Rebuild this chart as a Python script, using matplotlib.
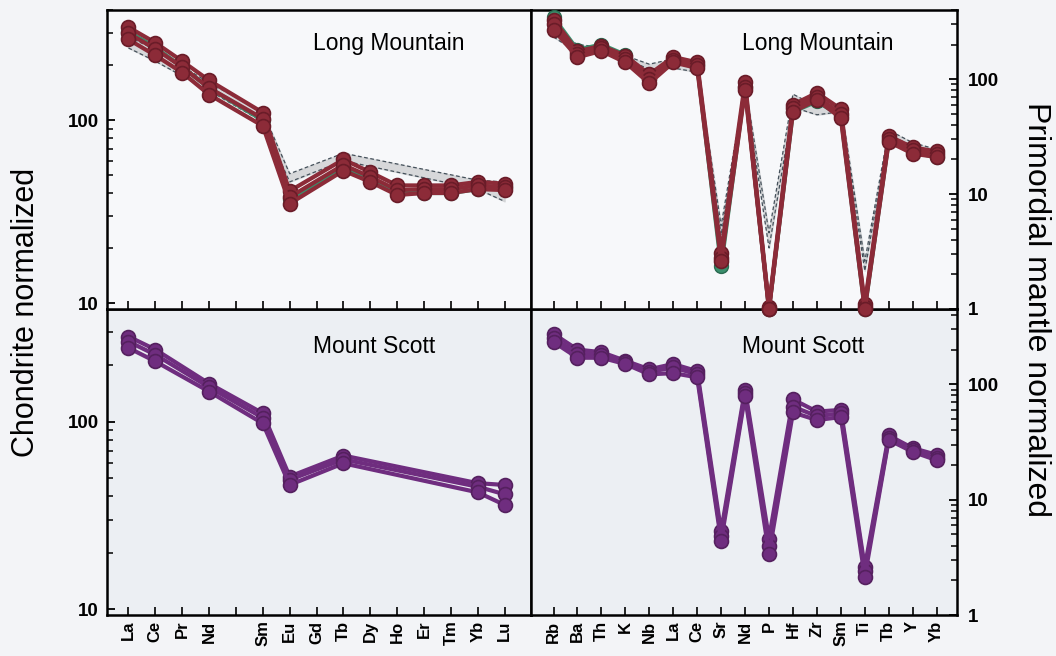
import numpy as np
import matplotlib.pyplot as plt
from matplotlib.ticker import LogLocator, NullFormatter

plt.rcParams['font.family'] = ['Liberation Sans', 'DejaVu Sans']

# --- REE, chondrite normalized ---
ree_labels = ['La', 'Ce', 'Pr', 'Nd', '', 'Sm', 'Eu', 'Gd', 'Tb', 'Dy', 'Ho', 'Er', 'Tm', 'Yb', 'Lu']

lm_ree_elements = ['La', 'Ce', 'Pr', 'Nd', 'Sm', 'Eu', 'Tb', 'Dy', 'Ho', 'Er', 'Tm', 'Yb', 'Lu']
lm_ree_green = [305, 250, 195, 150, 100, 37, 55, 48, 40, 40, 40, 42, 43]
lm_ree = [
    [322, 265, 210, 165, 110, 41, 61, 52, 44, 44, 44, 46, 45],
    [298, 245, 195, 150, 102, 38, 57, 49, 41.5, 42, 42, 44, 43],
    [276, 226, 182, 138, 93, 35, 53, 46, 39, 40, 40, 42, 41.5],
]

ms_ree_elements = ['La', 'Ce', 'Nd', 'Sm', 'Eu', 'Tb', 'Yb', 'Lu']
ms_ree = [
    [285, 243, 160, 111, 51, 66, 47, 46],
    [268, 228, 153, 105, 49, 63, 45, 41],
    [248, 210, 145, 98, 46, 60, 42, 36],
]

# --- multi-element, primordial mantle normalized ---
spider_labels = ['Rb', 'Ba', 'Th', 'K', 'Nb', 'La', 'Ce', 'Sr', 'Nd', 'P',
                 'Hf', 'Zr', 'Sm', 'Ti', 'Tb', 'Y', 'Yb']
lm_spider_green = [345, 180, 200, 163, 104, 150, 133, 2.35, 86, 1.0, 52, 64, 48, 1.0, 29, 23, 21]
lm_spider = [
    [330, 175, 195, 160, 110, 156, 140, 3.1, 94, 1.05, 60, 76, 55, 1.1, 32, 25.5, 23.5],
    [300, 165, 186, 150, 100, 146, 132, 2.8, 86, 1.0, 56, 70, 50, 1.05, 30, 24, 22.5],
    [270, 155, 176, 140, 92, 140, 125, 2.6, 80, 1.0, 52, 66, 46, 1.0, 28.5, 22.5, 21],
]
ms_spider = [
    [274, 200, 190, 160, 135, 150, 130, 5.3, 90, 4.6, 74, 58, 60, 2.6, 36, 28, 24.5],
    [250, 185, 180, 155, 128, 140, 122, 4.8, 84, 4.0, 64, 53, 56, 2.4, 34, 27, 23],
    [233, 170, 170, 150, 122, 125, 115, 4.4, 79, 3.4, 57, 49, 52, 2.15, 33, 26, 22],
]

LM_RED = '#8c2b38'
LM_EDGE = '#6a1c28'
GREEN = '#3a8f6c'
MS_PURPLE = '#6f2d7f'
MS_EDGE = '#55205f'

fig = plt.figure(figsize=(10.56, 6.56), dpi=100, facecolor='#f3f4f7')
ax_tl = fig.add_axes([0.1013, 0.529, 0.4020, 0.4558])
ax_tr = fig.add_axes([0.5033, 0.529, 0.4029, 0.4558])
ax_bl = fig.add_axes([0.1013, 0.0625, 0.4020, 0.4665])
ax_br = fig.add_axes([0.5033, 0.0625, 0.4029, 0.4665])
ax_tl.set_zorder(3)
ax_tr.set_zorder(3)


def draw_lines(ax, x, rows, color, edge, green=None, clip=True):
    if green is not None:
        ax.plot(x, green, '-o', color=GREEN, mec='#2a6a50', lw=3, ms=10,
                clip_on=clip, zorder=3)
    for r in rows:
        ax.plot(x, r, '-o', color=color, mec=edge, mew=1.2, lw=3, ms=10,
                clip_on=clip, zorder=4)


def draw_field(ax, x, rows):
    # grey field = range of the Mount Scott samples
    arr = np.array(rows, dtype=float)
    lo, hi = arr.min(axis=0), arr.max(axis=0)
    ax.fill_between(x, lo, hi, color='#cfd1d3', alpha=0.8, zorder=2)
    ax.plot(x, hi, ls=(0, (3, 2)), color='#44505a', lw=0.9, zorder=2)
    ax.plot(x, lo, ls=(0, (3, 2)), color='#44505a', lw=0.9, zorder=2)


x_lm_ree = [ree_labels.index(e) for e in lm_ree_elements]
x_ms_ree = [ree_labels.index(e) for e in ms_ree_elements]
x_sp = np.arange(len(spider_labels))

draw_field(ax_tl, x_ms_ree, ms_ree)
draw_lines(ax_tl, x_lm_ree, lm_ree, LM_RED, LM_EDGE, green=lm_ree_green)
draw_lines(ax_bl, x_ms_ree, ms_ree, MS_PURPLE, MS_EDGE)
draw_field(ax_tr, x_sp, ms_spider)
draw_lines(ax_tr, x_sp, lm_spider, LM_RED, LM_EDGE, green=lm_spider_green, clip=False)
draw_lines(ax_br, x_sp, ms_spider, MS_PURPLE, MS_EDGE)

for ax, face in [(ax_tl, '#f7f8fa'), (ax_tr, '#f7f8fa'), (ax_bl, '#eceff3'), (ax_br, '#eceff3')]:
    ax.set_facecolor(face)
    ax.set_yscale('log')
    for s in ax.spines.values():
        s.set_linewidth(1.8)
    ax.tick_params(axis='x', which='both', direction='in', length=6, width=1.2,
                   top=False, bottom=True)
    ax.tick_params(axis='y', which='major', direction='in', length=6, width=1.3)
    ax.tick_params(axis='y', which='minor', direction='in', length=4.5, width=1.1)

for ax in (ax_tl, ax_bl):
    ax.set_xlim(-0.8, 15.0)
    ax.set_ylim(9.3, 400)
    ax.set_xticks(range(len(ree_labels)))
    ax.set_yticks([10, 100])
    ax.set_yticklabels(['10', '100'], fontsize=13.5, fontweight='bold')
    ax.yaxis.set_minor_locator(LogLocator(base=10, subs=np.arange(2, 10)))
    ax.yaxis.set_minor_formatter(NullFormatter())
    ax.tick_params(axis='y', which='both', left=True, right=False, pad=6)

for ax, top in ((ax_tr, 400), (ax_br, 450)):
    ax.set_xlim(-0.92, 16.85)
    ax.set_ylim(1, top)
    ax.set_xticks(x_sp)
    ax.set_yticks([1, 10, 100])
    ax.set_yticklabels(['1', '10', '100'], fontsize=13.5, fontweight='bold')
    ax.yaxis.set_minor_locator(LogLocator(base=10, subs=np.arange(2, 10)))
    ax.yaxis.set_minor_formatter(NullFormatter())
    ax.tick_params(axis='y', which='both', left=False, right=True,
                   labelleft=False, labelright=True, pad=8)

ax_tl.set_xticklabels([])
ax_tr.set_xticklabels([])
ax_bl.set_xticklabels(ree_labels, rotation=90, fontsize=12, fontweight='bold')
ax_br.set_xticklabels(spider_labels, rotation=90, fontsize=12, fontweight='bold')
ax_bl.tick_params(axis='x', pad=4)
ax_br.tick_params(axis='x', pad=4)

ax_tl.text(0.486, 0.888, 'Long Mountain', transform=ax_tl.transAxes, fontsize=16.5, va='center')
ax_tr.text(0.495, 0.888, 'Long Mountain', transform=ax_tr.transAxes, fontsize=16.5, va='center')
ax_bl.text(0.485, 0.876, 'Mount Scott', transform=ax_bl.transAxes, fontsize=16.5, va='center')
ax_br.text(0.495, 0.876, 'Mount Scott', transform=ax_br.transAxes, fontsize=16.5, va='center')

fig.text(26 / 1056, 1 - 312 / 656, 'Chondrite normalized', rotation=90,
         fontsize=22, ha='center', va='center')
fig.text(1036 / 1056, 1 - 309 / 656, 'Primordial mantle normalized', rotation=-90,
         fontsize=23, ha='center', va='center')

fig.savefig('out.png', dpi=100, facecolor=fig.get_facecolor())
